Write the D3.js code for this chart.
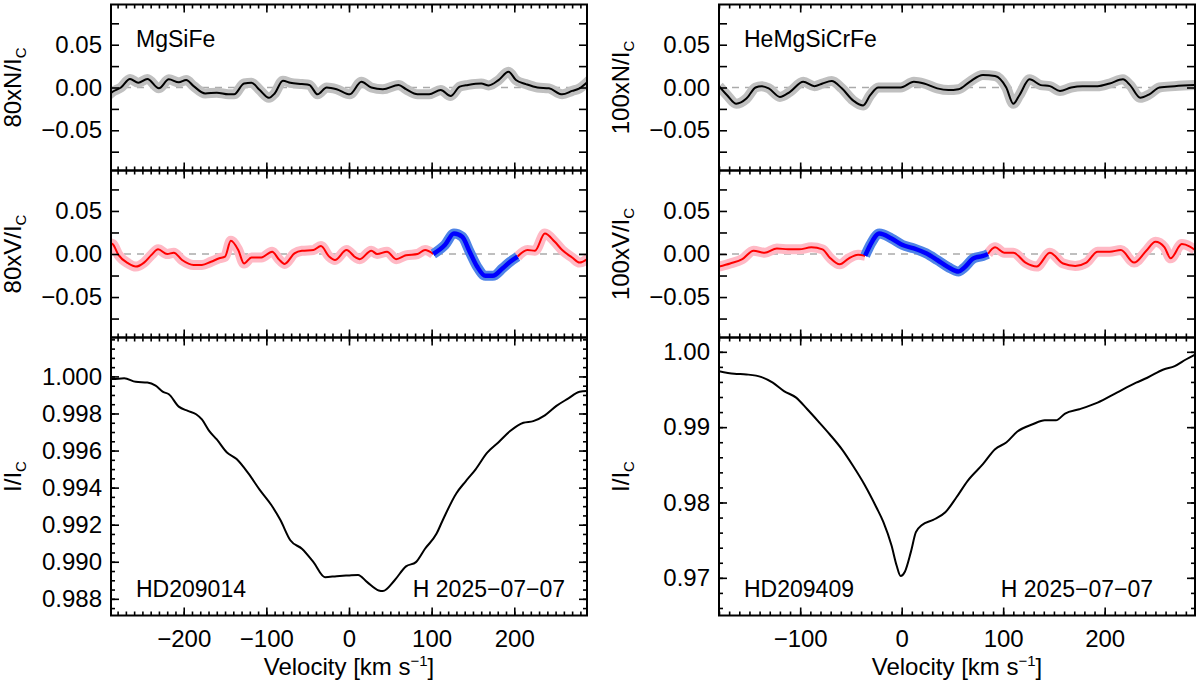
<!DOCTYPE html>
<html>
<head>
<meta charset="utf-8">
<script src="https://cdn.jsdelivr.net/npm/d3@7"></script>
<style>
    body { margin: 0; background: #fff; }
    svg { display: block; }
</style>
</head>
<body>
<svg id="chart-svg" width="1200" height="684"></svg>
<script>
/** ---- Data ---- **/
/** HD209014 (left column), MgSiFe mask **/
var leftNVel = [-291,-286,-276,-265,-255,-244,-230,-218,-206,-197,-188,-174,-160,-146,-139,-127,-118,-108,-97,-90,-80,-71,-57,-48,-38,-27,-15,1,15,27,41,60,69,83,97,111,123,134,144,160,169,181,193,202,214,228,242,258,270,279,291];
var leftNVal = [-0.009,-0.005,0,0.010,0.0055,0.010,-0.001,0.0095,0.006,0.0087,0.0016,-0.007,-0.006,-0.008,-0.008,0.0047,0.0055,-0.003,-0.012,-0.007,0.008,0.0055,0.004,0.003,-0.008,0,-0.002,-0.008,0.0067,0,-0.002,0.003,-0.002,-0.008,-0.008,-0.003,-0.010,0.001,0.003,0.0047,0.0024,0.0087,0.0185,0.0087,0.004,0,-0.001,-0.008,-0.004,-0.001,0.0087];

var leftVVel = [-291,-286,-279,-267,-258,-248,-239,-231,-220,-212,-202,-188,-178,-167,-157,-150,-143,-134,-127,-118,-106,-93,-85,-78,-66,-57,-43,-34,-24,-17,-3,8,13,27,34,46,57,69,83,92,102,116,127,137,146,155,165,174,186,195,204,216,225,237,249,258,270,279,291];
var leftVVal = [0.013,0.0115,-0.001,-0.011,-0.0146,-0.010,-0.001,0.0054,0,0.0015,-0.007,-0.0127,-0.0127,-0.009,-0.005,-0.003,0.0154,0.0046,-0.011,-0.004,-0.004,0.0027,-0.006,-0.0115,0.0008,0.0038,0.0046,0.0092,-0.003,-0.007,0.0046,-0.004,-0.006,0.0038,0,0.0027,-0.006,-0.0015,0,0.0046,0,0.0104,0.0238,0.020,0.0027,-0.0146,-0.0254,-0.0254,-0.0165,-0.009,-0.003,0.0046,0.0038,0.0238,0.0142,0.0046,-0.004,-0.010,-0.004];
var leftVSignal = [102, 204];   // velocity range drawn in blue

var leftIVel = [-291,-286,-272,-258,-244,-234,-225,-218,-206,-195,-185,-178,-169,-160,-148,-136,-122,-108,-94,-83,-71,-57,-43,-29,-15,-1,11,22,36,41,55,69,81,92,106,113,130,141,153,167,181,195,211,223,237,251,265,279,291];
var leftIVal = [0.99995,0.99986,0.9999,0.99971,0.99967,0.9995,0.99917,0.99904,0.99837,0.99814,0.99796,0.99768,0.99705,0.9966,0.99591,0.99554,0.99478,0.99388,0.99306,0.99225,0.99116,0.9907,0.98998,0.98917,0.98922,0.98926,0.98929,0.9889,0.98845,0.98842,0.98899,0.98975,0.98998,0.9907,0.99152,0.9922,0.9937,0.99433,0.99497,0.99587,0.99645,0.99705,0.9975,0.99759,0.9979,0.99841,0.9988,0.99917,0.99922];

/** HD209409 (right column), HeMgSiCrFe mask **/
var rightNVel = [-180,-172,-163,-153,-144,-138,-131,-120,-110,-97,-86,-78,-69,-59,-48,-38,-31,-23,-10,-1,12,22,35,46,56,67,80,92,103,110,116,126,137,146,156,167,178,193,205,218,225,235,244,254,269,289];
var rightNVal = [0.0016,-0.009,-0.019,-0.013,0,0.0016,-0.001,-0.011,-0.005,0.0067,0.0016,0.0047,0.0075,-0.001,-0.015,-0.021,-0.009,0,0,0,0.0067,0.0047,-0.001,-0.003,-0.002,0.0067,0.0146,0.0134,0,-0.019,-0.009,0.0095,0.0028,0.0016,-0.004,0,0.0016,0.0016,0.0047,0.0095,0.0028,-0.012,-0.008,0,0.0016,0.0028];

var rightVVel = [-180,-169,-157,-146,-135,-123,-112,-101,-89,-78,-71,-61,-52,-43,-36,-31,-22,-10,1,12,24,35,46,56,61,71,80,85,92,101,110,122,133,146,159,171,182,193,205,216,229,241,250,259,265,276,284,289];
var rightVVal = [-0.0146,-0.011,-0.006,0.0038,0.0015,0.0065,0.0054,0.0054,0.0077,0.0054,-0.004,-0.012,-0.005,-0.001,-0.002,0.0104,0.0238,0.018,0.0104,0.0065,0.0008,-0.007,-0.0154,-0.0204,-0.0165,-0.005,-0.0023,0,0.0077,0.0015,0.0015,-0.010,-0.0146,0.0015,-0.011,-0.0138,-0.010,0.0027,0.0027,0.0046,-0.010,0.0038,0.0142,0.0077,-0.005,0.0115,0.0085,0.0046];
var rightVSignal = [-36, 85];

var rightIVel = [-180,-165,-153,-138,-127,-116,-104,-93,-82,-71,-59,-48,-37,-25,-18,-10,-5,-1,3,9,14,20,31,43,54,65,80,92,103,114,129,141,152,161,175,193,212,231,242,258,269,280,289];
var rightIVal = [0.99743,0.99709,0.997,0.99664,0.9959,0.99479,0.99392,0.99237,0.99074,0.98906,0.98708,0.98487,0.98245,0.97937,0.9774,0.97429,0.97164,0.97024,0.97077,0.97341,0.97606,0.9770,0.9777,0.9787,0.98069,0.98288,0.98509,0.98708,0.98796,0.98942,0.99038,0.99091,0.99091,0.9918,0.99237,0.99325,0.99458,0.9959,0.99656,0.99766,0.9981,0.99898,0.99964];

/** Axis ranges and tick labels **/
var leftVelDomain = [-288, 288];
var rightVelDomain = [-180, 289];
var polDomain = [-0.097, 0.097];
var leftIDomain = [0.9871, 1.0021];
var rightIDomain = [0.965, 1.0019];

var leftVelTicks = [-200, -100, 0, 100, 200];
var rightVelTicks = [-100, 0, 100, 200];
var polTicks = [-0.05, 0, 0.05];
var polMinor = [-0.075, -0.025, 0.025, 0.075];
var leftITicks = [0.988, 0.990, 0.992, 0.994, 0.996, 0.998, 1.000];
var rightITicks = [0.97, 0.98, 0.99, 1.00];

/** ---- Layout ---- **/
var FONT = "'Liberation Sans', Arial, Helvetica, sans-serif";
var colX = [[111, 587], [719, 1195]];
var rowY = [[4.5, 170.5], [170.5, 337.5], [337.5, 615.5]];

var chart_svg = d3.select("#chart-svg");

function styleAxis(a) {
    a.select(".domain").remove();
    a.selectAll("line").attr("stroke", "#000").attr("stroke-width", 1.6);
    a.selectAll("text")
        .attr("fill", "#000")
        .style("font-family", FONT)
        .style("font-size", "24px");
}

/** Draws frame + inward ticks on all four sides **/
function drawFrame(g, xs, ys, opt) {
    var x0 = xs.range()[0], x1 = xs.range()[1];
    var y0 = ys.range()[1], y1 = ys.range()[0];

    /** x minor ticks every 10 km/s, major every 100 **/
    var d = xs.domain();
    var xMinor = d3.range(Math.ceil(d[0] / 10) * 10, d[1] + 0.01, 10);

    var bMinor = g.append("g").attr("transform", "translate(0," + y1 + ")")
        .call(d3.axisBottom(xs).tickValues(xMinor).tickSize(-4).tickFormat(""));
    styleAxis(bMinor);
    var tMinor = g.append("g").attr("transform", "translate(0," + y0 + ")")
        .call(d3.axisTop(xs).tickValues(xMinor).tickSize(-4).tickFormat(""));
    styleAxis(tMinor);

    var bMajor = g.append("g").attr("transform", "translate(0," + y1 + ")")
        .call(d3.axisBottom(xs).tickValues(opt.xTicks).tickSize(-8).tickPadding(14)
            .tickFormat(opt.showX ? d3.format("d") : ""));
    styleAxis(bMajor);
    var tMajor = g.append("g").attr("transform", "translate(0," + y0 + ")")
        .call(d3.axisTop(xs).tickValues(opt.xTicks).tickSize(-8).tickFormat(""));
    styleAxis(tMajor);

    /** y ticks **/
    if (opt.yMinor) {
        var lMin = g.append("g").attr("transform", "translate(" + x0 + ",0)")
            .call(d3.axisLeft(ys).tickValues(opt.yMinor).tickSize(-opt.yMinorLen).tickFormat(""));
        styleAxis(lMin);
        var rMin = g.append("g").attr("transform", "translate(" + x1 + ",0)")
            .call(d3.axisRight(ys).tickValues(opt.yMinor).tickSize(-opt.yMinorLen).tickFormat(""));
        styleAxis(rMin);
    }
    var lMaj = g.append("g").attr("transform", "translate(" + x0 + ",0)")
        .call(d3.axisLeft(ys).tickValues(opt.yTicks).tickSize(-8).tickPadding(9)
            .tickFormat(d3.format(opt.yFormat)));
    styleAxis(lMaj);
    var rMaj = g.append("g").attr("transform", "translate(" + x1 + ",0)")
        .call(d3.axisRight(ys).tickValues(opt.yTicks).tickSize(-8).tickFormat(""));
    styleAxis(rMaj);

    g.append("rect")
        .attr("x", x0).attr("y", y0)
        .attr("width", x1 - x0).attr("height", y1 - y0)
        .attr("fill", "none")
        .attr("stroke", "#000")
        .attr("stroke-width", 2);

    /** rotated y title with subscript C **/
    var t = g.append("text")
        .attr("transform", "translate(" + (x0 - 90) + "," + ((y0 + y1) / 2) + ") rotate(-90)")
        .attr("text-anchor", "middle")
        .style("font-family", FONT)
        .style("font-size", "24px")
        .attr("fill", "#000");
    t.append("tspan").text(opt.title);
    t.append("tspan").attr("dy", 5).style("font-size", "15px").text("C");
}

function clipFor(g, id, xs, ys) {
    g.append("clipPath").attr("id", id)
        .append("rect")
        .attr("x", xs.range()[0]).attr("y", ys.range()[1])
        .attr("width", xs.range()[1] - xs.range()[0])
        .attr("height", ys.range()[0] - ys.range()[1]);
    return g.append("g").attr("clip-path", "url(#" + id + ")");
}

function zeroLine(g, xs, ys) {
    g.append("line")
        .attr("x1", xs.range()[0]).attr("x2", xs.range()[1])
        .attr("y1", ys(0)).attr("y2", ys(0))
        .attr("stroke", "#aaaaaa")
        .attr("stroke-width", 1.5)
        .attr("stroke-dasharray", "7,6");
}

function drawColumn(col, cfg) {
    var xr = colX[col];
    var xs = d3.scaleLinear().domain(cfg.velDomain).range(xr);
    var g = chart_svg.append("g");

    /** ---- Null (N) panel ---- **/
    var ysN = d3.scaleLinear().domain(polDomain).range([rowY[0][1], rowY[0][0]]);
    var lineN = d3.line().curve(d3.curveMonotoneX)
        .x(function(d) { return xs(d[0]); })
        .y(function(d) { return ysN(d[1]); });
    var cN = clipFor(g, "clipN" + col, xs, ysN);
    zeroLine(cN, xs, ysN);
    var nData = d3.zip(cfg.nVel, cfg.nVal);
    cN.append("path").datum(nData).attr("d", lineN)
        .attr("fill", "none").attr("stroke", "#c0c0c0")
        .attr("stroke-width", 10).attr("stroke-linejoin", "round");
    cN.append("path").datum(nData).attr("d", lineN)
        .attr("fill", "none").attr("stroke", "#000").attr("stroke-width", 2);
    drawFrame(g, xs, ysN, {xTicks: cfg.velTicks, showX: false, yTicks: polTicks,
        yMinor: polMinor, yMinorLen: 8, yFormat: ".2f", title: cfg.prefix + "N/I"});
    g.append("text").attr("x", xr[0] + 25).attr("y", 47)
        .style("font-family", FONT).style("font-size", "23px").text(cfg.mask);

    /** ---- Stokes V panel ---- **/
    var ysV = d3.scaleLinear().domain(polDomain).range([rowY[1][1], rowY[1][0]]);
    var lineV = d3.line().curve(d3.curveMonotoneX)
        .x(function(d) { return xs(d[0]); })
        .y(function(d) { return ysV(d[1]); });
    var cV = clipFor(g, "clipV" + col, xs, ysV);
    zeroLine(cV, xs, ysV);
    var vData = d3.zip(cfg.vVel, cfg.vVal);
    var s0 = cfg.signal[0], s1 = cfg.signal[1];
    var segs = [
        {pts: vData.filter(function(d) { return d[0] <= s0; }), band: "#ffb9c5", line: "#ff0000", w: 2},
        {pts: vData.filter(function(d) { return d[0] >= s1; }), band: "#ffb9c5", line: "#ff0000", w: 2},
        {pts: vData.filter(function(d) { return d[0] >= s0 && d[0] <= s1; }), band: "#4f84e6", line: "#0000ff", w: 4.5}
    ];
    segs.forEach(function(s) {
        cV.append("path").datum(s.pts).attr("d", lineV)
            .attr("fill", "none").attr("stroke", s.band)
            .attr("stroke-width", 10).attr("stroke-linejoin", "round");
    });
    segs.forEach(function(s) {
        cV.append("path").datum(s.pts).attr("d", lineV)
            .attr("fill", "none").attr("stroke", s.line).attr("stroke-width", s.w);
    });
    drawFrame(g, xs, ysV, {xTicks: cfg.velTicks, showX: false, yTicks: polTicks,
        yMinor: polMinor, yMinorLen: 8, yFormat: ".2f", title: cfg.prefix + "V/I"});

    /** ---- Intensity panel ---- **/
    var ysI = d3.scaleLinear().domain(cfg.iDomain).range([rowY[2][1], rowY[2][0]]);
    var lineI = d3.line().curve(d3.curveMonotoneX)
        .x(function(d) { return xs(d[0]); })
        .y(function(d) { return ysI(d[1]); });
    var cI = clipFor(g, "clipI" + col, xs, ysI);
    cI.append("path").datum(d3.zip(cfg.iVel, cfg.iVal)).attr("d", lineI)
        .attr("fill", "none").attr("stroke", "#000").attr("stroke-width", 2);
    var idm = cfg.iDomain;
    var iMinor = d3.range(Math.ceil(idm[0] / cfg.iMinorStep) * cfg.iMinorStep, idm[1], cfg.iMinorStep);
    drawFrame(g, xs, ysI, {xTicks: cfg.velTicks, showX: true, yTicks: cfg.iTicks,
        yMinor: iMinor, yMinorLen: 4, yFormat: cfg.iFormat, title: "I/I"});

    g.append("text").attr("x", xr[0] + 25).attr("y", 597)
        .style("font-family", FONT).style("font-size", "23px").text(cfg.star);
    g.append("text").attr("x", xr[1] - cfg.dateInset).attr("y", 597)
        .attr("text-anchor", "end")
        .style("font-family", FONT).style("font-size", "23px").text("H 2025\u221207\u221207");

    /** x title **/
    var xt = g.append("text")
        .attr("x", (xr[0] + xr[1]) / 2).attr("y", 675)
        .attr("text-anchor", "middle")
        .style("font-family", FONT).style("font-size", "24px");
    xt.append("tspan").text("Velocity [km s");
    xt.append("tspan").attr("dy", -9).style("font-size", "15px").text("\u22121");
    xt.append("tspan").attr("dy", 9).text("]");
}

drawColumn(0, {
    velDomain: leftVelDomain, velTicks: leftVelTicks, prefix: "80x", mask: "MgSiFe",
    nVel: leftNVel, nVal: leftNVal, vVel: leftVVel, vVal: leftVVal, signal: leftVSignal,
    iVel: leftIVel, iVal: leftIVal, iDomain: leftIDomain, iTicks: leftITicks,
    iMinorStep: 0.0005, iFormat: ".3f", star: "HD209014", dateInset: 22
});
drawColumn(1, {
    velDomain: rightVelDomain, velTicks: rightVelTicks, prefix: "100x", mask: "HeMgSiCrFe",
    nVel: rightNVel, nVal: rightNVal, vVel: rightVVel, vVal: rightVVal, signal: rightVSignal,
    iVel: rightIVel, iVal: rightIVal, iDomain: rightIDomain, iTicks: rightITicks,
    iMinorStep: 0.002, iFormat: ".2f", star: "HD209409", dateInset: 42
});
</script>
</body>
</html>
